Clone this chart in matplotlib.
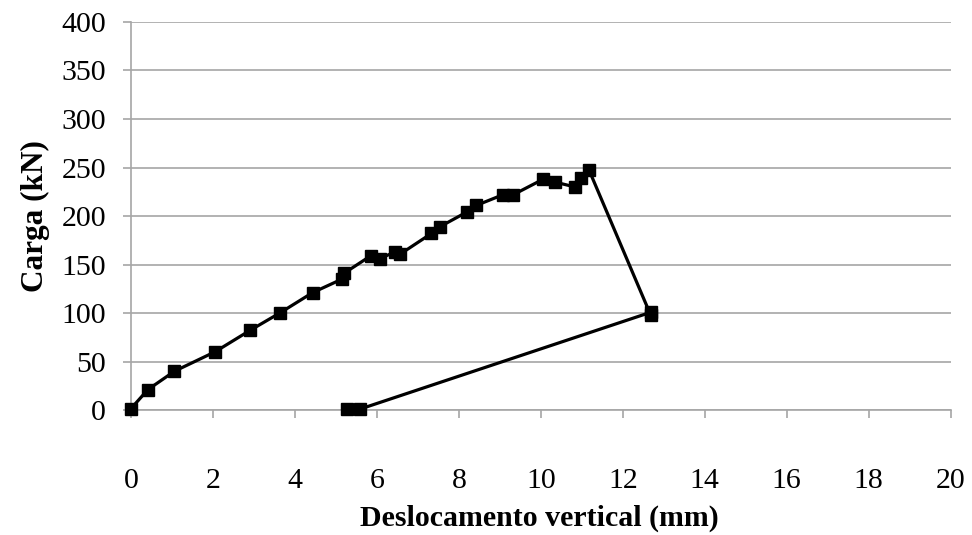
import matplotlib.pyplot as plt

# dados
desloc = [0.0, 0.41, 1.06, 2.05, 2.9, 3.63, 4.43, 5.15, 5.2, 5.85, 6.07, 6.44, 6.56,
          7.33, 7.54, 8.19, 8.43, 9.08, 9.33, 10.06, 10.34, 10.83, 10.99, 11.18,
          12.68, 12.7, 5.59, 5.26]
carga = [1.5, 21, 40, 60, 82, 100, 121, 135, 141, 159, 156, 163, 160.5,
         182, 189, 204, 211, 222, 222, 238, 235, 230, 239, 247,
         98, 101, 1, 1]

plt.rcParams['font.family'] = ['Liberation Serif', 'DejaVu Serif']

fig = plt.figure(figsize=(9.72, 5.35), dpi=100)
ax = fig.add_axes([0.1348, 0.2336, 0.8432, 0.7253])

ax.plot(desloc, carga, color='black', lw=2.3, marker='s', markersize=8.5,
        markerfacecolor='black', markeredgecolor='black', clip_on=False, zorder=3)

ax.set_xlim(0, 20)
ax.set_ylim(0, 400)
ax.set_xticks(range(0, 21, 2))
ax.set_yticks(range(0, 401, 50))

ax.grid(axis='y', color='#a6a6a6', lw=1.2)
ax.set_axisbelow(True)
for s in ['top', 'right']:
    ax.spines[s].set_visible(False)
for s in ['left', 'bottom']:
    ax.spines[s].set_color('#a6a6a6')
    ax.spines[s].set_linewidth(1.2)

ax.tick_params(axis='x', length=6, width=1.2, color='#a6a6a6', pad=36, labelsize=21.5)
ax.tick_params(axis='y', length=6, width=1.2, color='#a6a6a6', pad=12, labelsize=21.5)

ax.set_xlabel('Deslocamento vertical (mm)', fontsize=21.5, fontweight='bold', va='center')
ax.xaxis.set_label_coords(0.498, -0.28)
ax.set_ylabel('Carga (kN)', fontsize=22.5, fontweight='bold', labelpad=8)

fig.savefig('out.png', dpi=100)
